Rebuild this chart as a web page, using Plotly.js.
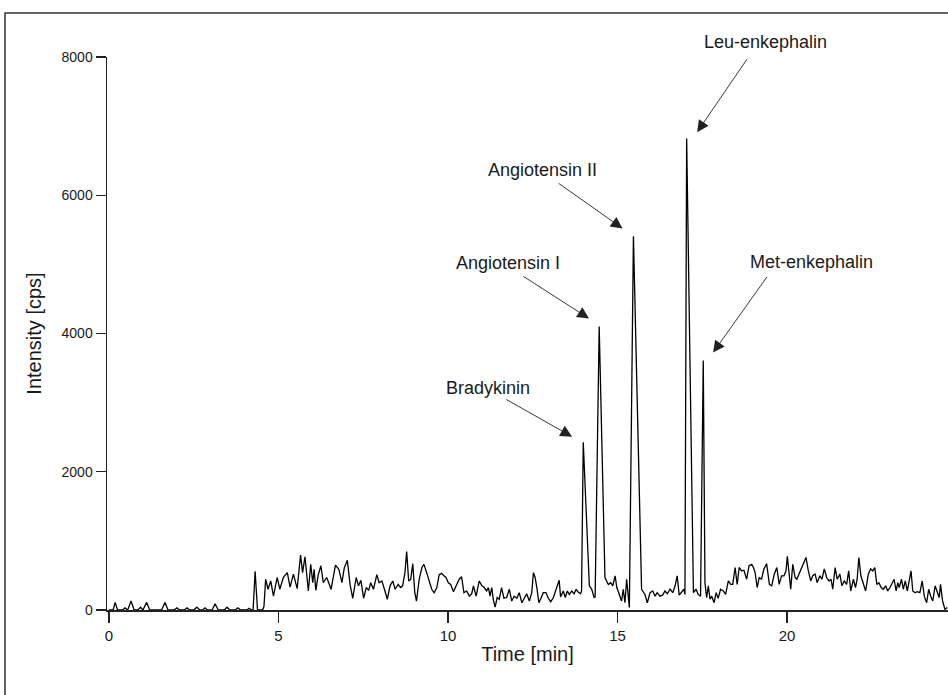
<!DOCTYPE html>
<html>
<head>
<meta charset="utf-8">
<script src="https://cdn.plot.ly/plotly-3.0.1.min.js"></script>
<style>
  html, body { margin: 0; padding: 0; background: #fff; }
  #chart { width: 948px; height: 695px; }
</style>
</head>
<body>
<div id="chart"></div>
<script>
// Retention time (min)
const timeMin = [
  0,0.12,0.18,0.25,0.4,0.47,0.55,0.65,0.74,0.85,0.93,1.0,1.11,1.2,1.55,1.65,1.74,1.92,2.0,2.08,
  2.22,2.3,2.38,2.5,2.59,2.68,2.76,2.83,2.9,3.04,3.13,3.22,3.4,3.48,3.56,3.72,3.8,3.88,4.07,4.13,
  4.2,4.25,4.31,4.38,4.45,4.53,4.57,4.62,4.69,4.77,4.85,4.96,5.04,5.14,5.26,5.34,5.44,5.55,5.65,5.71,
  5.78,5.88,5.95,6.01,6.05,6.1,6.17,6.25,6.32,6.42,6.5,6.55,6.68,6.78,6.87,6.94,7.03,7.11,7.19,7.29,
  7.36,7.43,7.51,7.59,7.66,7.72,7.8,7.9,7.97,8.05,8.14,8.21,8.29,8.37,8.44,8.53,8.6,8.66,8.73,8.78,
  8.84,8.9,8.96,9.02,9.07,9.15,9.23,9.29,9.37,9.45,9.52,9.59,9.67,9.74,9.81,9.88,9.94,10.01,10.08,10.16,
  10.24,10.33,10.4,10.47,10.55,10.63,10.7,10.75,10.83,10.92,11.0,11.07,11.14,11.19,11.24,11.29,11.34,11.39,11.45,11.51,
  11.58,11.65,11.73,11.81,11.88,11.95,12.03,12.1,12.18,12.24,12.32,12.4,12.47,12.52,12.57,12.62,12.68,12.73,12.81,12.89,
  12.96,13.03,13.11,13.19,13.25,13.28,13.32,13.4,13.46,13.52,13.58,13.65,13.72,13.78,13.83,13.91,13.94,13.99,14.17,14.24,
  14.31,14.34,14.46,14.63,14.73,14.8,14.86,14.93,14.98,15.02,15.07,15.12,15.17,15.22,15.27,15.32,15.35,15.47,15.71,15.81,
  15.88,15.96,16.04,16.11,16.17,16.25,16.33,16.4,16.47,16.55,16.63,16.7,16.76,16.82,16.89,16.96,16.99,17.04,17.24,17.32,
  17.38,17.45,17.53,17.58,17.63,17.68,17.73,17.78,17.85,17.91,17.97,18.04,18.12,18.19,18.27,18.34,18.4,18.47,18.53,18.59,
  18.66,18.73,18.81,18.88,18.96,19.01,19.06,19.12,19.18,19.25,19.32,19.4,19.48,19.55,19.62,19.7,19.77,19.84,19.91,19.97,
  20.01,20.07,20.11,20.17,20.24,20.29,20.36,20.43,20.5,20.56,20.63,20.7,20.76,20.83,20.89,20.97,21.03,21.1,21.17,21.24,
  21.3,21.35,21.42,21.48,21.56,21.62,21.69,21.76,21.82,21.88,21.96,22.02,22.07,22.12,22.18,22.25,22.32,22.4,22.47,22.53,
  22.59,22.65,22.71,22.78,22.84,22.91,22.97,23.04,23.11,23.16,23.22,23.27,23.31,23.38,23.43,23.49,23.55,23.61,23.66,23.71,
  23.78,23.84,23.92,23.99,24.05,24.12,24.18,24.24,24.3,24.37,24.43,24.49,24.53,24.59,24.66,24.73
];
// Intensity (cps)
const intensityCps = [
  0,0,110,0,0,30,0,130,0,0,40,0,110,0,0,110,0,0,30,0,
  0,30,0,0,40,0,0,30,0,0,90,0,0,40,0,0,30,0,0,25,
  0,0,560,0,0,0,50,445,300,420,200,470,300,470,540,330,520,310,795,540,
  770,275,660,395,590,285,505,640,395,470,370,300,650,590,395,610,720,370,170,470,
  350,430,170,325,285,395,300,510,395,420,275,155,350,420,300,370,325,350,540,845,
  420,445,670,250,130,445,615,660,540,395,300,250,325,510,530,495,470,395,370,265,
  350,445,480,250,275,200,235,350,200,420,350,325,275,325,200,325,140,43,180,155,
  325,170,180,300,130,200,170,250,105,155,235,130,250,540,470,325,105,155,250,250,
  170,120,180,300,370,430,190,275,180,275,225,275,235,300,265,235,275,2425,350,300,
  180,190,4101,468,370,395,350,495,325,265,225,130,300,105,445,180,35,5406,300,225,
  105,250,275,200,250,200,215,275,235,300,250,350,495,215,265,300,225,6820,250,300,
  225,200,3609,395,180,350,155,200,105,250,170,300,275,225,420,370,370,615,370,615,
  565,575,445,640,660,615,540,325,470,445,595,670,370,350,510,615,370,495,495,565,
  775,420,300,660,470,445,520,595,690,760,565,420,495,520,395,495,445,595,470,420,
  445,300,615,445,520,350,420,370,565,275,445,325,445,760,495,395,275,520,595,565,
  615,370,395,325,300,350,275,325,395,445,275,395,325,445,300,420,275,420,565,275,
  250,265,250,420,200,105,300,200,130,350,250,180,370,130,10,35
];
// Peak labels and their arrow positions
const peakNames  = ["Bradykinin", "Angiotensin I", "Angiotensin II", "Leu-enkephalin", "Met-enkephalin"];
const labelTime  = [11.18, 11.77, 12.80, 19.38, 20.71];
const labelInt   = [3217, 5014, 6361, 8216, 5028];
const tailTime   = [11.68, 12.18, 13.22, 18.85, 19.44];
const tailInt    = [3057, 4840, 6187, 7990, 4840];
const headTime   = [13.66, 14.16, 15.15, 17.35, 17.82];
const headInt    = [2507, 4217, 5520, 6913, 3724];
const xTicks = [0, 5, 10, 15, 20];
const yTicks = [0, 2000, 4000, 6000, 8000];

const FONT = "Liberation Sans, Arial, Helvetica, sans-serif";
const TXT = "#1a1a1a";

const L = 107, R = 0, T = 57, B = 85, W = 948, H = 695;
const pw = W - L - R, ph = H - T - B;
const yMax = 8000;
const px2x = p => (p - L) / pw;
const py2y = p => (H - B - p) / ph;

const trace = {
  x: timeMin, y: intensityCps, type: "scatter", mode: "lines",
  line: { color: "#000", width: 1.3 }, hoverinfo: "x+y", cliponaxis: false
};

const annotations = [];
peakNames.forEach((n, i) => {
  const outside = labelInt[i] > yMax;
  annotations.push({
    x: labelTime[i], xref: "x",
    y: outside ? labelInt[i] / yMax : labelInt[i], yref: outside ? "paper" : "y",
    xanchor: "center", yanchor: "middle",
    text: n, showarrow: false, font: { family: FONT, size: 18, color: TXT }
  });
  annotations.push({
    x: headTime[i], y: headInt[i], xref: "x", yref: "y",
    ax: tailTime[i], ay: tailInt[i], axref: "x", ayref: "y",
    text: "", showarrow: true, arrowhead: 2, arrowsize: 2.6, arrowwidth: 0.9,
    arrowcolor: "#222", standoff: 0, startstandoff: 0
  });
});

const layout = {
  width: W, height: H,
  margin: { l: L, r: R, t: T, b: B },
  paper_bgcolor: "#fff", plot_bgcolor: "#fff",
  showlegend: false,
  font: { family: FONT, color: TXT },
  xaxis: {
    range: [-0.06, 24.75], tickvals: xTicks, ticktext: xTicks.map(String),
    ticks: "outside", ticklen: 11, tickwidth: 1.3, tickcolor: "#222",
    showline: true, linecolor: "#222", linewidth: 1.5,
    showgrid: false, zeroline: false,
    tickfont: { family: FONT, size: 15, color: TXT },
    title: { text: "Time [min]", font: { family: FONT, size: 20, color: TXT }, standoff: 4 }
  },
  yaxis: {
    range: [0, yMax], tickvals: yTicks, ticktext: yTicks.map(String),
    ticks: "outside", ticklen: 10, tickwidth: 1.3, tickcolor: "#222",
    showline: true, linecolor: "#222", linewidth: 1.5,
    showgrid: false, zeroline: false,
    tickfont: { family: FONT, size: 14, color: TXT },
    title: { text: "Intensity [cps]", font: { family: FONT, size: 20, color: TXT }, standoff: 14 }
  },
  annotations: annotations,
  shapes: [{
    type: "rect", xref: "paper", yref: "paper",
    x0: px2x(5), x1: px2x(990), y0: py2y(760), y1: py2y(13),
    line: { color: "#333", width: 1.5 }, fillcolor: "rgba(0,0,0,0)", layer: "below"
  }]
};

Plotly.newPlot("chart", [trace], layout, { staticPlot: true, displayModeBar: false });
</script>
</body>
</html>
